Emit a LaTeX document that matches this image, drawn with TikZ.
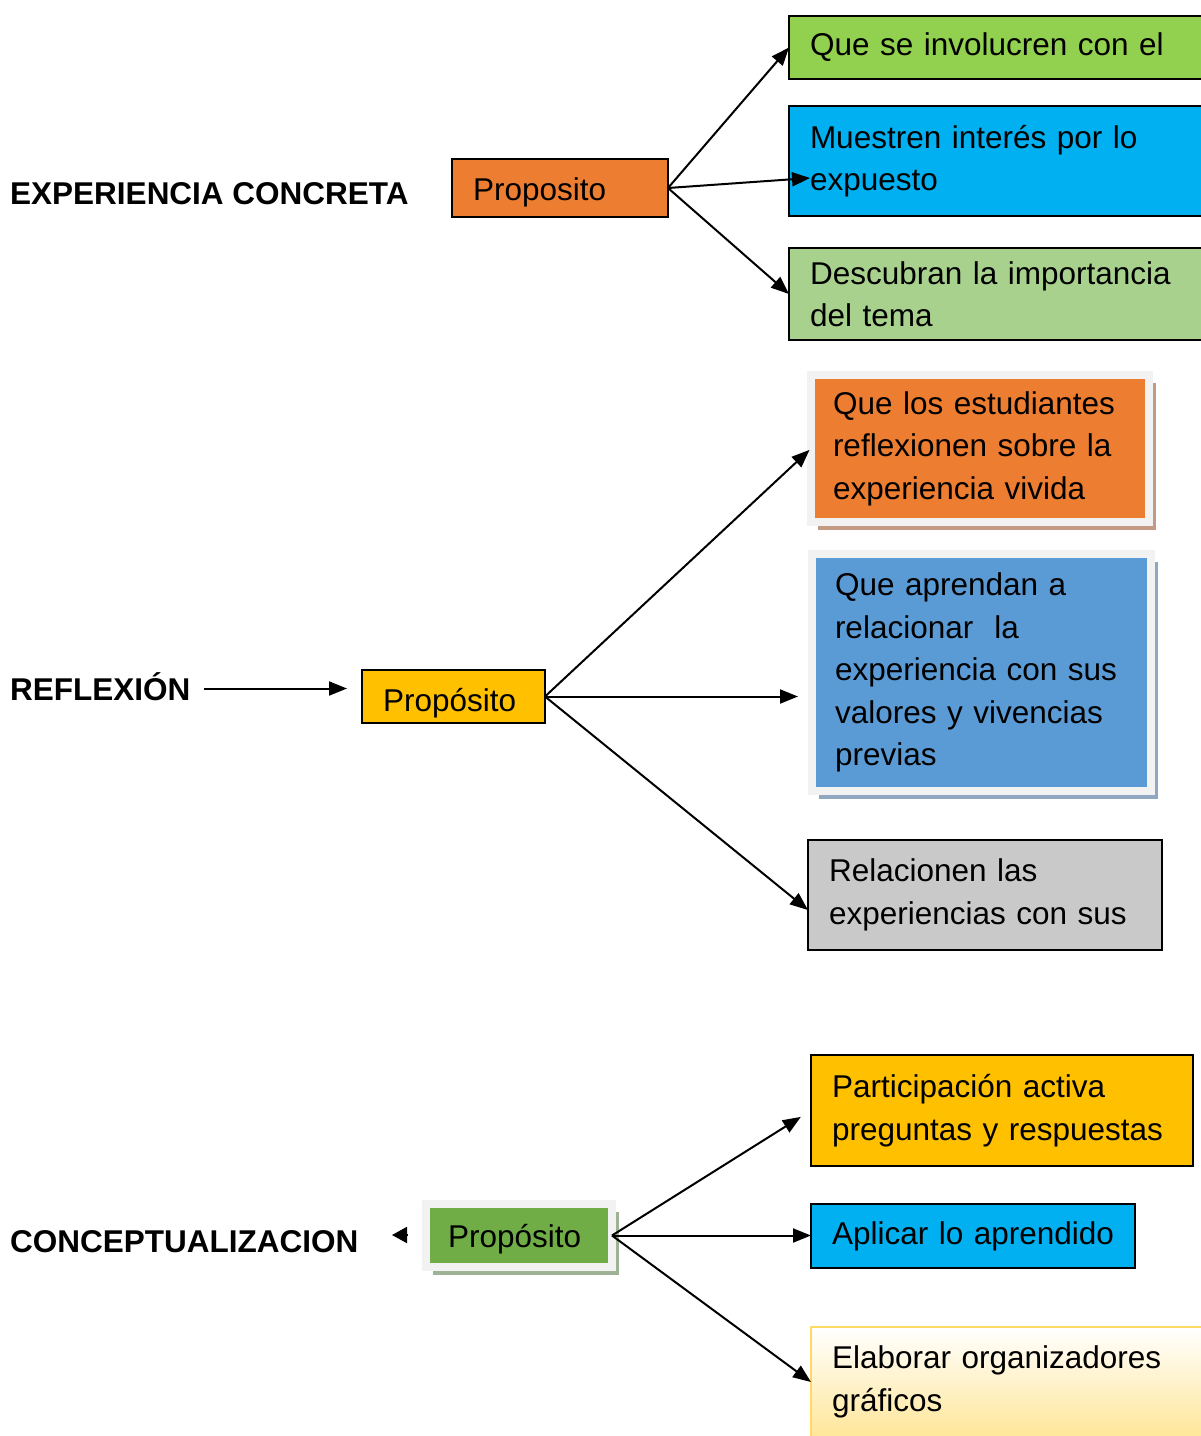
\documentclass[tikz,border=0pt]{standalone}
\usepackage{fontspec}
\setmainfont{Liberation Sans}
\usepackage{tikz}
\usetikzlibrary{arrows.meta, shadows}

\definecolor{naranja}{HTML}{ED7D31}
\definecolor{verdeclaro}{HTML}{92D050}
\definecolor{celeste}{HTML}{00B0F0}
\definecolor{verdesuave}{HTML}{A9D18E}
\definecolor{azul}{HTML}{5B9BD5}
\definecolor{gris}{HTML}{C9C9C9}
\definecolor{amarillo}{HTML}{FFC000}
\definecolor{verde}{HTML}{70AD47}
\definecolor{marcogris}{HTML}{F2F2F2}
\definecolor{sombranaranja}{HTML}{C49A85}
\definecolor{sombraazul}{HTML}{8FA7C1}
\definecolor{sombraverde}{HTML}{A0B296}
\definecolor{bordecrema}{HTML}{FFD966}
\definecolor{crema}{HTML}{FFE699}

\newcommand{\cuerpo}{\fontsize{31.5}{42.5}\selectfont}

\begin{document}
\begin{tikzpicture}[x=1pt, y=-1pt,
    caja/.style={draw=black, line width=2pt, anchor=north west, align=left, outer sep=0pt,
      inner xsep=21pt, inner ysep=0pt, font=\cuerpo},
    marco/.style={draw=marcogris, line width=8pt, anchor=north west, align=left, outer sep=0pt,
      inner ysep=0pt, font=\cuerpo,
      drop shadow={shadow xshift=7pt, shadow yshift=-8pt, fill=#1, opacity=1}},
    titulo/.style={anchor=base west, inner sep=0pt, text height=23pt, text depth=0pt,
      font=\fontsize{31.5}{38}\selectfont\bfseries},
    flecha/.style={-{Triangle[length=18pt, width=14pt]}, line width=2pt}]
    \useasboundingbox (0,0) rectangle (1201,1436);

    % experiencia concreta
    \node[titulo] (exp) at (10,204) {EXPERIENCIA CONCRETA};
    \node[caja, fill=naranja, text width=174pt, text height=41pt, text depth=17pt] (p1) at (452,159) {Proposito};
    \node[caja, fill=verdeclaro, text width=388pt, minimum height=63pt] (a1) at (789,16) {Que se involucren con el};
    \node[caja, fill=celeste, text width=388pt, minimum height=110pt] (a2) at (789,106) {Muestren interés por lo\\expuesto};
    \node[caja, fill=verdesuave, text width=388pt, minimum height=92pt] (a3) at (789,248) {Descubran la importancia\\del tema};
    \draw[flecha] (p1.east)--(a1.west);
    \draw[flecha] (p1.east)--([shift={(21,17)}]a2.west);
    \draw[flecha] (p1.east)--(a3.west);

    % reflexion
    \node[titulo] (ref) at (10,700) {REFLEXIÓN};
    \node[caja, fill=amarillo, text width=141pt, text height=41pt, text depth=12pt] (p2) at (362,670) {Propósito};
    \node[marco=sombranaranja, fill=naranja, inner xsep=22pt, text width=294pt, minimum height=147pt] (b1) at (811,375) {Que los estudiantes\\reflexionen sobre la\\experiencia vivida};
    \node[marco=sombraazul, fill=azul, inner xsep=23pt, text width=293pt, minimum height=237pt] (b2) at (812,554) {Que aprendan a\\relacionar\ \ la\\experiencia con sus\\valores y vivencias\\previas};
    \node[caja, fill=gris, text width=312pt, minimum height=110pt] (b3) at (808,840) {Relacionen las\\experiencias con sus};
    \draw[flecha, shorten <=13pt, shorten >=15pt] (ref.east)--(ref.east -| p2.west);
    \draw[flecha, shorten >=2pt] (p2.east)--(b1.west);
    \draw[flecha, shorten >=14pt] (p2.east)--(p2.east -| b2.west);
    \draw[flecha] (p2.east)--([yshift=-15pt]b3.west);

    % conceptualizacion
    \node[titulo] (con) at (10,1252) {CONCEPTUALIZACION};
    \coordinate (cola) at (407,1235);
    \coordinate (punta) at (392,1235);
    \draw[-{Triangle[length=15pt, width=16pt]}, line width=2pt] (cola)--(punta);
    \node[marco=sombraverde, fill=verde, inner xsep=22pt, text width=142pt, text height=43pt, text depth=20pt] (p3) at (426,1204) {Propósito};
    \node[caja, fill=amarillo, text width=340pt, minimum height=111pt] (c1) at (811,1055) {Participación activa\\preguntas y respuestas};
    \node[caja, fill=celeste, text width=282pt, minimum height=64pt] (c2) at (811,1204) {Aplicar lo aprendido};
    \node[caja, draw=bordecrema, top color=white, bottom color=crema, text width=367pt, minimum height=110pt] (c3) at (811,1327) {Elaborar organizadores\\gráficos};
    \draw[flecha, shorten >=12pt] (p3.east)--(c1.west);
    \draw[flecha] (p3.east)--(p3.east -| c2.west);
    \draw[flecha] (p3.east)--(c3.west);
\end{tikzpicture}
\end{document}
